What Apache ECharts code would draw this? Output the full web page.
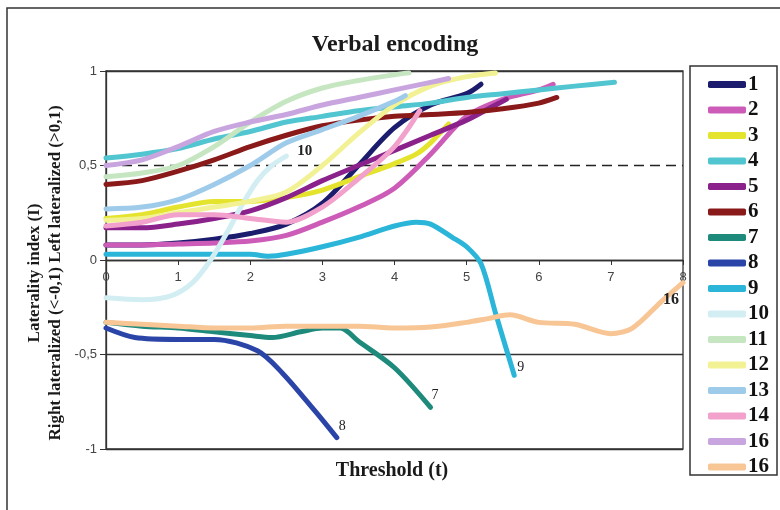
<!DOCTYPE html>
<html>
<head>
<meta charset="utf-8">
<script src="https://cdn.jsdelivr.net/npm/echarts@6/dist/echarts.min.js"></script>
<style>
html,body{margin:0;padding:0;background:#fff;}
#chart{width:780px;height:510px;}
</style>
</head>
<body>
<div id="chart"></div>
<script>
// ---- Data (threshold t, laterality index I) ----
const titleText = 'Verbal encoding';
const xTicks = [0,1,2,3,4,5,6,7,8];
const yTicks = [-1,-0.5,0,0.5,1];
const seriesNames = ['1','2','3','4','5','6','7','8','9','10','11','12','13','14','16a','16b'];
const seriesColors = ['#1c1c6e','#cc5cb8','#e4e42e','#52c6d0','#8b228b','#8a1a1a','#1e8a7c','#2b44a8','#2bb5d9','#d2eef3','#c6e6c2','#f2f294','#9fcbea','#f2a0cc','#c8a5de','#f8c595'];
const endLabels = {'7':'7','8':'8','9':'9','10':'10','16b':'16'};

const s1  = [[0,0.08],[0.5,0.08],[1,0.09],[1.5,0.11],[2,0.14],[2.5,0.19],[3,0.3],[3.5,0.5],[4,0.7],[4.5,0.82],[5,0.88],[5.2,0.93]];
const s2  = [[0,0.08],[0.5,0.08],[1,0.085],[1.5,0.09],[2,0.1],[2.5,0.13],[3,0.2],[3.5,0.28],[4,0.38],[4.5,0.56],[5,0.76],[5.5,0.85],[6,0.9],[6.2,0.93]];
const s3  = [[0,0.22],[0.5,0.24],[1,0.28],[1.5,0.31],[2,0.31],[2.5,0.33],[3,0.37],[3.5,0.44],[4,0.51],[4.3,0.56],[4.5,0.62],[4.75,0.72]];
const s4  = [[0,0.54],[0.5,0.56],[1,0.59],[1.5,0.64],[2,0.68],[2.5,0.73],[3,0.76],[3.5,0.79],[4,0.81],[4.5,0.83],[5,0.86],[5.5,0.88],[6,0.9],[6.5,0.92],[7.05,0.94]];
const s5  = [[0,0.17],[0.5,0.17],[1,0.19],[1.5,0.22],[2,0.26],[2.5,0.33],[3,0.42],[3.5,0.5],[4,0.58],[4.5,0.66],[5,0.74],[5.3,0.8],[5.55,0.85]];
const s6  = [[0,0.4],[0.5,0.42],[1,0.47],[1.5,0.53],[2,0.6],[2.5,0.66],[3,0.71],[3.5,0.74],[4,0.76],[4.5,0.77],[5,0.78],[5.5,0.8],[6,0.83],[6.25,0.86]];
const s7  = [[0,-0.33],[0.5,-0.35],[1,-0.36],[1.5,-0.38],[2,-0.4],[2.3,-0.41],[2.7,-0.38],[3,-0.36],[3.25,-0.36],[3.5,-0.43],[4,-0.57],[4.5,-0.78]];
const s8  = [[0,-0.36],[0.4,-0.41],[1,-0.42],[1.5,-0.42],[2.1,-0.48],[2.45,-0.6],[2.9,-0.8],[3.2,-0.94]];
const s9  = [[0,0.03],[0.5,0.03],[1,0.03],[1.5,0.03],[2,0.03],[2.25,0.02],[2.5,0.03],[3,0.07],[3.5,0.12],[4,0.18],[4.3,0.2],[4.5,0.19],[4.8,0.12],[5,0.07],[5.2,-0.02],[5.4,-0.28],[5.66,-0.61]];
const s10 = [[0,-0.2],[0.5,-0.21],[0.9,-0.19],[1.2,-0.12],[1.45,0.0],[1.7,0.16],[1.9,0.3],[2.1,0.42],[2.3,0.5],[2.5,0.55]];
const s11 = [[0,0.44],[0.5,0.46],[1,0.5],[1.5,0.6],[2,0.73],[2.5,0.84],[3,0.91],[3.5,0.95],[4,0.98],[4.2,0.99]];
const s12 = [[0,0.21],[0.5,0.22],[1,0.25],[1.5,0.28],[2,0.31],[2.5,0.36],[3,0.5],[3.5,0.67],[4,0.82],[4.5,0.92],[5,0.97],[5.4,0.99]];
const s13 = [[0,0.27],[0.5,0.28],[1,0.32],[1.5,0.4],[2,0.5],[2.5,0.62],[3,0.69],[3.5,0.76],[4,0.84],[4.15,0.87]];
const s14 = [[0,0.18],[0.5,0.2],[1,0.24],[1.5,0.24],[2,0.22],[2.5,0.2],[3,0.28],[3.5,0.43],[4,0.6],[4.35,0.79]];
const s15 = [[0,0.5],[0.5,0.53],[1,0.6],[1.5,0.68],[2,0.73],[2.5,0.77],[3,0.82],[3.5,0.86],[4,0.9],[4.5,0.94],[4.75,0.96]];
const s16 = [[0,-0.33],[0.5,-0.34],[1,-0.35],[1.5,-0.36],[2,-0.36],[2.5,-0.35],[3,-0.35],[3.5,-0.35],[4,-0.36],[4.5,-0.355],[5,-0.33],[5.3,-0.31],[5.6,-0.29],[6,-0.33],[6.5,-0.34],[7,-0.39],[7.3,-0.36],[7.7,-0.22],[8,-0.12]];
const allData = [s1,s2,s3,s4,s5,s6,s7,s8,s9,s10,s11,s12,s13,s14,s15,s16];

// ---- Chart ----
const labelOffsets = {'7':[-7,-12],'8':[-6,-11],'9':[-5,-8],'10':[3,-5],'16b':[-28,17]};
const labelFonts = {'7':[14,'normal'],'8':[14,'normal'],'9':[14,'normal'],'10':[15,'bold'],'16b':[16,'bold']};
const serif = '"Liberation Serif","Times New Roman",serif';
const chart = echarts.init(document.getElementById('chart'), null, {renderer:'canvas'});

const series = seriesNames.map((name, i) => {
  const lbl = endLabels[name];
  return {
    name: name,
    type: 'line',
    data: allData[i],
    smooth: 0.3,
    showSymbol: false,
    symbol: 'none',
    color: seriesColors[i],
    lineStyle: {width: 5, color: seriesColors[i], cap: 'round', join: 'round'},
    endLabel: lbl ? {
      show: true,
      formatter: lbl,
      offset: labelOffsets[name],
      fontFamily: serif,
      fontSize: labelFonts[name][0],
      fontWeight: labelFonts[name][1],
      color: '#222'
    } : {show: false},
    emphasis: {disabled: true},
    z: 2
  };
});

series[0].markLine = {
  silent: true,
  symbol: 'none',
  label: {show: false},
  lineStyle: {color: '#222', width: 1.3, type: [10, 6]},
  data: [{yAxis: 0.5}],
  z: 1
};

chart.setOption({
  animation: false,
  backgroundColor: '#fff',
  title: {
    text: titleText,
    left: 390, top: 28, textAlign: 'center',
    textStyle: {fontFamily: serif, fontSize: 24, fontWeight: 'bold', color: '#1a1a1a'}
  },
  grid: {left: 106, right: 97, top: 71, bottom: 61, show: true, borderColor: '#333', borderWidth: 1.3, backgroundColor: 'transparent'},
  legend: {
    orient: 'vertical',
    left: 703, top: 69,
    itemWidth: 38, itemHeight: 7,
    itemGap: 4.5,
    icon: 'roundRect',
    formatter: n => n.replace(/[ab]$/, ''),
    textStyle: {fontFamily: serif, fontSize: 21, fontWeight: 'bold', color: '#111', lineHeight: 21, padding: [0,0,0,-3]},
    data: seriesNames,
    selectedMode: false
  },
  xAxis: {
    type: 'value', min: 0, max: 8, interval: 1,
    position: 'bottom',
    offset: -189,
    axisLine: {onZero: false, lineStyle: {color: '#333', width: 1.3}},
    axisTick: {show: true, length: 5, lineStyle: {color: '#333'}},
    axisLabel: {margin: 11, fontFamily: '"Liberation Sans",Arial,sans-serif', fontSize: 13, color: '#444',
      formatter: v => xTicks.includes(v) ? String(v) : ''},
    splitLine: {show: false}
  },
  yAxis: {
    type: 'value', min: -1, max: 1, interval: 0.5,
    axisLine: {show: true, lineStyle: {color: '#333', width: 1.3}},
    axisTick: {show: true, length: 6, lineStyle: {color: '#333'}},
    axisLabel: {margin: 9, fontFamily: '"Liberation Sans",Arial,sans-serif', fontSize: 13, color: '#444',
      formatter: v => yTicks.includes(v) ? String(v).replace('.', ',') : ''},
    splitLine: {show: true, lineStyle: {color: ['#333','#333','#333','rgba(0,0,0,0)','#333'], width: 1.3}}
  },
  graphic: [
    {type: 'rect', silent: true, z: -1, shape: {x: 7, y: 8, width: 800, height: 600}, style: {fill: 'none', stroke: '#333', lineWidth: 1.5}},
    {type: 'rect', silent: true, shape: {x: 690, y: 66, width: 87, height: 409}, style: {fill: 'none', stroke: '#333', lineWidth: 1.5}},
    {type: 'text', silent: true, x: 45, y: 273, rotation: Math.PI / 2,
      style: {text: 'Laterality index (I)\nRight lateralized (<-0,1) Left lateralized (>0,1)',
        font: 'bold 17px ' + serif, fill: '#1a1a1a', textAlign: 'center', textVerticalAlign: 'middle', lineHeight: 21}},
    {type: 'text', silent: true, x: 392, y: 471,
      style: {text: 'Threshold (t)', font: 'bold 20px ' + serif, fill: '#1a1a1a', textAlign: 'center', textVerticalAlign: 'middle'}}
  ],
  series: series
});
</script>
</body>
</html>
